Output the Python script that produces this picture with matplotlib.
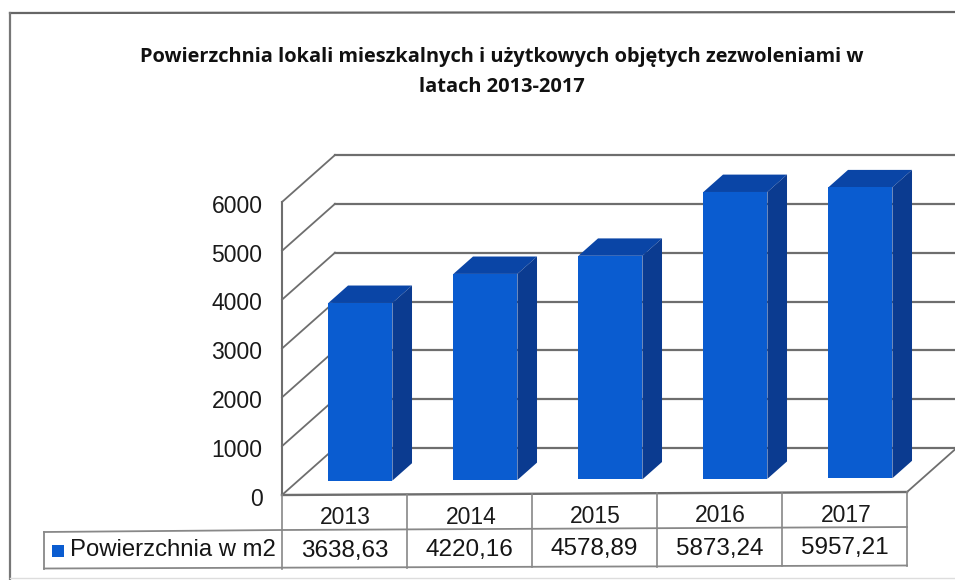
import matplotlib
matplotlib.use("Agg")
import matplotlib.pyplot as plt
from matplotlib.patches import Polygon, Rectangle
from matplotlib.transforms import blended_transform_factory, ScaledTranslation

years = ["2013", "2014", "2015", "2016", "2017"]
values = [3638.63, 4220.16, 4578.89, 5873.24, 5957.21]
value_labels = ["3638,63", "4220,16", "4578,89", "5873,24", "5957,21"]
y_ticks = [0, 1000, 2000, 3000, 4000, 5000, 6000]
series_name = "Powierzchnia w m2"
title_line1 = "Powierzchnia lokali mieszkalnych i użytkowych objętych zezwoleniami w"
title_line2 = "latach 2013-2017"

W, H = 955, 580
fig = plt.figure(figsize=(W / 100, H / 100), dpi=100, facecolor="white")

# pixel overlay for frame and table
pix = fig.add_axes([0, 0, 1, 1], zorder=5)
pix.set_xlim(0, W); pix.set_ylim(H, 0); pix.axis("off"); pix.patch.set_alpha(0)

# plot axes: category 0..5 spans 282..907 px, value 0..6000 spans 495..202 px
L, R, Y0, Y6 = 282, 907, 495, 202
ax = fig.add_axes([L / W, 1 - Y0 / H, (R - L) / W, (Y0 - Y6) / H], zorder=1)
ax.set_xlim(0, 5); ax.set_ylim(0, 6000)
ax.patch.set_alpha(0)
for s in ax.spines.values():
    s.set_visible(False)
ax.set_xticks([])
ax.set_yticks(y_ticks)
ax.tick_params(axis="y", length=0, pad=14, labelsize=16.5, labelcolor="#1a1a1a")
shift = ScaledTranslation(0, -1.2 / 72, fig.dpi_scale_trans)
for t in ax.get_yticklabels():
    t.set_fontfamily("Liberation Sans")
    t.set_transform(t.get_transform() + shift)

DX = 53 / 125            # depth offset, categories
DY = 47 / 293 * 6000     # depth offset, value units
TILT = (3 / 293 * 6000) / 5   # value units gained per category (picture tilt)
GRID = "#6e6e6e"

def tilt(x):
    return TILT * x

# walls and floor
xmax = (W - L) / 125 + 0.1
for v in y_ticks:
    ax.plot([0, DX], [v, v + DY], color=GRID, lw=1.3, clip_on=False, zorder=1)
    ax.plot([DX, xmax], [v + DY, v + DY], color=GRID, lw=1.6, clip_on=False, zorder=1)
ax.plot([0, 0], [0, 6000], color=GRID, lw=1.5, clip_on=False, zorder=1)
ax.plot([0, 5], [0, tilt(5)], color=GRID, lw=1.7, clip_on=False, zorder=1)
ax.plot([5, 5 + DX], [tilt(5), tilt(5) + DY], color=GRID, lw=1.3, clip_on=False, zorder=1)

# bars
FRONT, TOP, SIDE = "#0a5cd0", "#0a45a6", "#0b3b90"
centers = [i + 0.5 for i in range(len(values))]
bw = 0.512
d0, d1 = 0.30, 0.67
bases = [d0 * DY + tilt(c) for c in centers]
xs = [c + d0 * DX for c in centers]
ax.bar(xs, values, width=bw, bottom=bases, color=FRONT, zorder=4, clip_on=False, linewidth=0)
dd = d1 - d0
for x, v, b in zip(xs, values, bases):
    xl, xr = x - bw / 2, x + bw / 2
    t = b + v
    ax.add_patch(Polygon([(xl, t), (xr, t), (xr + dd * DX, t + dd * DY), (xl + dd * DX, t + dd * DY)],
                         closed=True, fc=TOP, ec="none", zorder=3, clip_on=False))
    ax.add_patch(Polygon([(xr, b), (xr, t), (xr + dd * DX, t + dd * DY), (xr + dd * DX, b + dd * DY)],
                         closed=True, fc=SIDE, ec="none", zorder=3, clip_on=False))

# title
pix.text(502, 57, title_line1, ha="center", va="center", fontsize=14.4, fontweight="bold",
         family="Open Sans", color="#111111")
pix.text(502, 87, title_line2, ha="center", va="center", fontsize=14.4, fontweight="bold",
         family="Open Sans", color="#111111")

# outer frame
pix.plot([10, W], [13, 12], color="#666666", lw=1.6)
pix.plot([10, 10], [13, H], color="#777777", lw=1.6)
pix.plot([10, W], [578, 578], color="#dddddd", lw=1)

# data table
col_x = [L + 125 * i for i in range(6)]
TC = "#888888"
def tbl_y(y, x):
    return y - 3 * (x - L) / (R - L)
pix.plot([L, R], [tbl_y(530, L), tbl_y(530, R)], color=TC, lw=1.3)
pix.plot([44, L], [532, 530], color=TC, lw=1.3)
pix.plot([44, R], [568.5, tbl_y(568.5, R)], color=TC, lw=1.3)
pix.plot([44, 44], [532, 568.5], color=TC, lw=1.3)
for x in col_x:
    pix.plot([x, x], [tbl_y(495, x), tbl_y(568.5, x)], color=TC, lw=1.2)

pix.add_patch(Rectangle((52, 545), 12, 12, fc=FRONT, ec="none"))
pix.text(70, 550.5, series_name, ha="left", va="center", fontsize=17.2,
         family="Liberation Sans", color="#151515")
tr = blended_transform_factory(ax.transData, pix.transData)
for c, yr, lab in zip(centers, years, value_labels):
    px = L + 125 * c
    ax.text(c + 0.01, tbl_y(518, px), yr, transform=tr, ha="center", va="center", fontsize=16.5,
            family="Liberation Sans", color="#1a1a1a", clip_on=False)
    ax.text(c + 0.0, tbl_y(551, px), lab, transform=tr, ha="center", va="center", fontsize=17.5,
            family="Liberation Sans", color="#151515", clip_on=False)

fig.savefig("out.png", dpi=100, facecolor="white")
